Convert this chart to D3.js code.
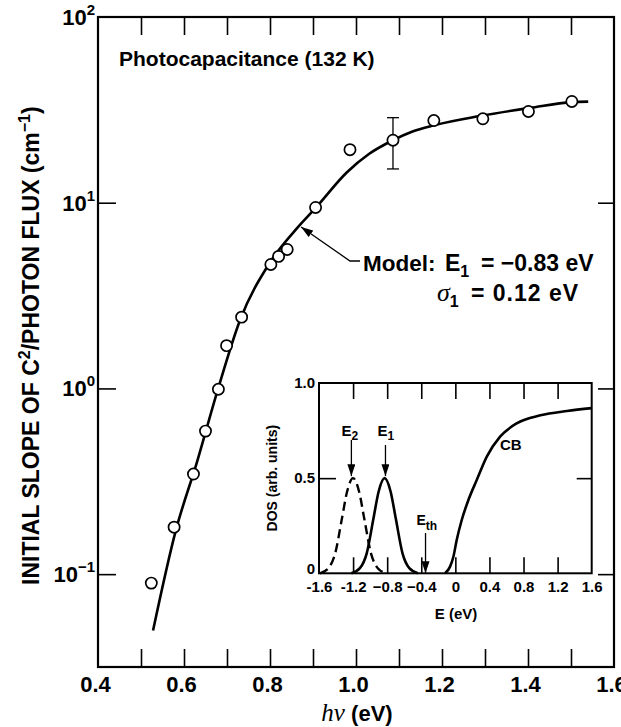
<!DOCTYPE html>
<html><head><meta charset="utf-8">
<script src="https://cdn.jsdelivr.net/npm/d3@7"></script>
<style>
body{margin:0;background:#fff}
text{font-family:"Liberation Sans",Arial,Helvetica,sans-serif;font-weight:bold;fill:#000}
</style>
</head><body>
<svg id="c" width="621" height="727"></svg>
<script>
// ---------- data ----------
const hv      = [0.524,0.577,0.622,0.650,0.680,0.699,0.734,0.802,0.820,0.840,0.906,0.986,1.086,1.181,1.295,1.401,1.502];
const slope   = [0.0895,0.179,0.346,0.589,0.99,1.70,2.42,4.65,5.14,5.60,9.43,19.3,21.7,27.7,28.3,31.0,35.1];
const errHv   = [1.086];
const errLow  = [15.2];
const errHigh = [28.7];

const modelHv    = [0.528,0.581,0.630,0.679,0.730,0.800,0.865,0.907,0.979,1.030,1.086,1.130,1.181,1.288,1.405,1.502,1.540];
const modelSlope = [0.0497,0.172,0.400,0.99,2.32,4.77,7.39,9.43,14.6,18.3,21.7,24.1,26.1,29.3,32.4,34.8,35.0];

const xMinorTicks = [0.5,0.6,0.7,0.8,0.9,1.0,1.1,1.2,1.3,1.4,1.5];
const xTickLabels = [0.4,0.6,0.8,1.0,1.2,1.4,1.6];
const yDecades    = [2,1,0,-1];

// inset
const e1E   = [-1.22,-1.12,-1.04,-0.96,-0.90,-0.83,-0.76,-0.70,-0.62,-0.54,-0.44];
const e1Dos = [0.0,0.027,0.105,0.29,0.43,0.50,0.43,0.29,0.105,0.027,0.0];
const e2E   = [-1.59,-1.49,-1.41,-1.33,-1.27,-1.20,-1.13,-1.07,-0.99,-0.91,-0.81];
const e2Dos = [0.0,0.027,0.105,0.29,0.43,0.50,0.43,0.29,0.105,0.027,0.0];
const cbE   = [-0.121,-0.062,-0.023,0.016,0.075,0.153,0.251,0.369,0.525,0.72,0.998,1.31,1.60];
const cbDos = [0.0,0.035,0.087,0.175,0.28,0.385,0.49,0.613,0.718,0.788,0.830,0.853,0.868];
const insetXTicks = [-1.6,-1.2,-0.8,-0.4,0,0.4,0.8,1.2,1.6];
const insetYTicks = [0,0.5,1.0];
const arrowE = {E2:-1.22, E1:-0.82, Eth:-0.35};

// ---------- drawing ----------
const svg = d3.select("#c");
const L=98,R=614,T=17,B=667;
const x = d3.scaleLinear([0.4,1.6],[L,R]);
const y = d3.scaleLog([Math.pow(10,-1.5),100],[B,T]);

const defs = svg.append("defs");
defs.append("marker").attr("id","ah").attr("markerUnits","userSpaceOnUse")
  .attr("viewBox","0 0 12 8").attr("refX",12).attr("refY",4)
  .attr("markerWidth",12).attr("markerHeight",8).attr("orient","auto")
  .append("path").attr("d","M0,0 L12,4 L0,8 Z").attr("fill","#000");

function clean(g){ g.select(".domain").remove(); g.attr("font-size",null).attr("font-family",null);
  g.selectAll("line").attr("stroke","#000").attr("stroke-width",1.6); }

svg.append("g").attr("transform",`translate(0,${B})`)
  .call(d3.axisBottom(x).tickValues(xMinorTicks).tickSize(-18).tickFormat("")).call(clean);
svg.append("g").attr("transform",`translate(0,${T})`)
  .call(d3.axisTop(x).tickValues(xMinorTicks).tickSize(-18).tickFormat("")).call(clean);
svg.append("g").attr("transform",`translate(${L},0)`)
  .call(d3.axisLeft(y).tickValues([0.1,1,10]).tickSize(-18).tickFormat("")).call(clean);
svg.append("g").attr("transform",`translate(${R},0)`)
  .call(d3.axisRight(y).tickValues([0.1,1,10]).tickSize(-16).tickFormat("")).call(clean);

svg.append("rect").attr("x",L).attr("y",T).attr("width",R-L).attr("height",B-T)
  .attr("fill","none").attr("stroke","#000").attr("stroke-width",2.2);

// x tick labels
const xl = svg.append("g").attr("transform",`translate(0,${B})`)
  .call(d3.axisBottom(x).tickValues(xTickLabels).tickSize(0).tickPadding(9).tickFormat(d3.format(".1f")));
xl.select(".domain").remove(); xl.attr("font-size",null).attr("font-family",null);
xl.selectAll("text").attr("font-size",22).attr("fill","#000").attr("dx",-3);

// y tick labels
yDecades.forEach(e=>{
  const t = svg.append("text").attr("x",95).attr("y",y(Math.pow(10,e))+8)
    .attr("text-anchor","end").attr("font-size",22);
  t.append("tspan").text("10");
  t.append("tspan").attr("font-size",15).attr("dy",-10).text(e<0?"\u2212"+(-e):String(e));
});

// y title
const yt = svg.append("text").attr("transform","translate(39,585) rotate(-90)").attr("font-size",23);
yt.append("tspan").text("INITIAL SLOPE OF C");
yt.append("tspan").attr("font-size",16).attr("dy",-9).text("2");
yt.append("tspan").attr("dy",9).text("/PHOTON FLUX (cm");
yt.append("tspan").attr("font-size",16).attr("dy",-9).text("\u22121");
yt.append("tspan").attr("dy",9).text(")");

// x title
const xt = svg.append("text").attr("x",357).attr("y",721).attr("text-anchor","middle");
xt.append("tspan").attr("font-family","'Liberation Serif','Times New Roman',serif")
  .attr("font-style","italic").attr("font-weight","normal").attr("font-size",25).text("h\u03bd");
xt.append("tspan").attr("font-size",22).text(" (eV)");

// title
svg.append("text").attr("x",119).attr("y",66).attr("font-size",21).text("Photocapacitance (132 K)");

// model curve
const line = d3.line().x(d=>x(d[0])).y(d=>y(d[1])).curve(d3.curveMonotoneX);
svg.append("path").datum(modelHv.map((v,i)=>[v,modelSlope[i]]))
  .attr("d",line).attr("fill","none").attr("stroke","#000").attr("stroke-width",2.6);

// error bar
errHv.forEach((v,i)=>{
  const g = svg.append("g").attr("stroke","#000").attr("stroke-width",1.3);
  g.append("line").attr("x1",x(v)).attr("x2",x(v)).attr("y1",y(errLow[i])).attr("y2",y(errHigh[i]));
  g.append("line").attr("x1",x(v)-6).attr("x2",x(v)+6).attr("y1",y(errLow[i])).attr("y2",y(errLow[i]));
  g.append("line").attr("x1",x(v)-6).attr("x2",x(v)+6).attr("y1",y(errHigh[i])).attr("y2",y(errHigh[i]));
});

// data points
svg.append("g").selectAll("circle").data(hv.map((v,i)=>[v,slope[i]])).join("circle")
  .attr("cx",d=>x(d[0])).attr("cy",d=>y(d[1])).attr("r",5.6)
  .attr("fill","#fff").attr("stroke","#000").attr("stroke-width",1.7);

// model annotation
const tipX = x(0.87)+1, tipY = y(7.4);
svg.append("path").attr("d",`M360,261 L350,261 L${tipX},${tipY}`)
  .attr("fill","none").attr("stroke","#000").attr("stroke-width",1.3).attr("marker-end","url(#ah)");
svg.append("text").attr("x",363).attr("y",271).attr("font-size",22.5).text("Model:");
const m1 = svg.append("text").attr("x",445).attr("y",271).attr("font-size",23);
m1.append("tspan").text("E");
m1.append("tspan").attr("font-size",16).attr("dy",6).text("1");
m1.append("tspan").attr("x",481).attr("dy",-6).text("= \u22120.83 eV");
const m2 = svg.append("text").attr("x",437).attr("y",301).attr("font-size",23);
m2.append("tspan").attr("font-family","'Liberation Serif','Times New Roman',serif")
  .attr("font-style","italic").attr("font-weight","normal").attr("font-size",26).text("\u03c3");
m2.append("tspan").attr("font-size",16).attr("dy",6).text("1");
m2.append("tspan").attr("x",471).attr("dy",-6).attr("letter-spacing",1).text("= 0.12 eV");

// ---------- inset ----------
const iL=319, iR=591.7, iT=383, iB=573.3;
const ix = d3.scaleLinear([-1.6,1.6],[iL,iR]);
const iy = d3.scaleLinear([0,1],[iB,iT]);
const innerTicks = insetXTicks.slice(1,-1);

svg.append("g").attr("transform",`translate(0,${iB})`)
  .call(d3.axisBottom(ix).tickValues(innerTicks).tickSize(-16).tickFormat("")).call(clean);
svg.append("g").attr("transform",`translate(0,${iT})`)
  .call(d3.axisTop(ix).tickValues(innerTicks).tickSize(-16).tickFormat("")).call(clean);
svg.append("g").attr("transform",`translate(${iL},0)`)
  .call(d3.axisLeft(iy).tickValues([0.5]).tickSize(-17).tickFormat("")).call(clean);
svg.append("g").attr("transform",`translate(${iR},0)`)
  .call(d3.axisRight(iy).tickValues([0.5]).tickSize(-15).tickFormat("")).call(clean);
svg.append("rect").attr("x",iL).attr("y",iT).attr("width",iR-iL).attr("height",iB-iT)
  .attr("fill","none").attr("stroke","#000").attr("stroke-width",2);

const ixl = svg.append("g").attr("transform",`translate(0,${iB})`)
  .call(d3.axisBottom(ix).tickValues(insetXTicks).tickSize(0).tickPadding(8)
    .tickFormat(d=>d===0?"0":(d<-1?"-"+(-d).toFixed(1):d3.format(".1f")(d))));
ixl.select(".domain").remove(); ixl.attr("font-size",null).attr("font-family",null);
ixl.selectAll("text").attr("font-size",15).attr("fill","#000");

svg.append("g").selectAll("text").data(insetYTicks).join("text")
  .attr("x",iL-4).attr("y",d=>d===0?iB+0.5:iy(d)+5).attr("text-anchor","end").attr("font-size",15)
  .text(d=>d===0?"0":d3.format(".1f")(d));

svg.append("text").attr("x",456).attr("y",619).attr("text-anchor","middle").attr("font-size",15).text("E (eV)");
svg.append("text").attr("transform",`translate(277,${(iT+iB)/2}) rotate(-90)`)
  .attr("text-anchor","middle").attr("font-size",14).text("DOS (arb. units)");

const iline = d3.line().x(d=>ix(d[0])).y(d=>iy(d[1])).curve(d3.curveMonotoneX);
svg.append("path").datum(e2E.map((v,i)=>[v,e2Dos[i]])).attr("d",iline)
  .attr("fill","none").attr("stroke","#000").attr("stroke-width",2.4).attr("stroke-dasharray","9,5");
svg.append("path").datum(e1E.map((v,i)=>[v,e1Dos[i]])).attr("d",iline)
  .attr("fill","none").attr("stroke","#000").attr("stroke-width",2.6);
svg.append("path").datum(cbE.map((v,i)=>[v,cbDos[i]])).attr("d",iline)
  .attr("fill","none").attr("stroke","#000").attr("stroke-width",2.6);

// inset labels + arrows
function arrow(xp,y1,y2){ svg.append("line").attr("x1",xp).attr("x2",xp).attr("y1",y1).attr("y2",y2)
  .attr("stroke","#000").attr("stroke-width",1.3).attr("marker-end","url(#ah)"); }
arrow(ix(arrowE.E2),440,iy(0.5)-2);
arrow(ix(arrowE.E1),445,iy(0.5)-2);
arrow(ix(arrowE.Eth),533,iy(0));
const t2 = svg.append("text").attr("x",ix(arrowE.E2)-10).attr("y",436).attr("font-size",15);
t2.append("tspan").text("E"); t2.append("tspan").attr("font-size",12).attr("dy",4).text("2");
const t1 = svg.append("text").attr("x",ix(arrowE.E1)-8).attr("y",436).attr("font-size",15);
t1.append("tspan").text("E"); t1.append("tspan").attr("font-size",12).attr("dy",4).text("1");
const t3 = svg.append("text").attr("x",ix(arrowE.Eth)-9).attr("y",525).attr("font-size",14);
t3.append("tspan").text("E"); t3.append("tspan").attr("font-size",12).attr("dy",5).text("th");
svg.append("text").attr("x",500).attr("y",450).attr("font-size",15).text("CB");
</script>
</body></html>
